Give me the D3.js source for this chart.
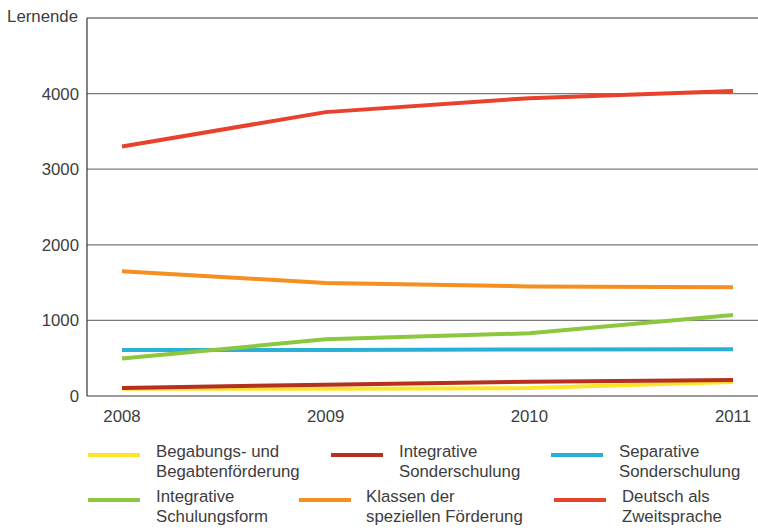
<!DOCTYPE html>
<html>
<head>
<meta charset="utf-8">
<script src="https://cdn.jsdelivr.net/npm/d3@7"></script>
<style>
  html, body { margin: 0; padding: 0; background: #fff; }
  svg { display: block; font-family: "Liberation Sans", Arial, sans-serif; }
</style>
</head>
<body>
<svg id="chart" width="758" height="532"></svg>
<script>
// Years on the x axis
const years = [2008, 2009, 2010, 2011];

// Number of learners per programme and year
const begabung      = [95, 95, 105, 185];
const intSonder     = [105, 150, 190, 212];
const sepSonder     = [610, 610, 615, 618];
const intSchulung   = [495, 750, 830, 1070];
const klassen       = [1650, 1495, 1450, 1440];
const daz           = [3300, 3755, 3940, 4035];

const seriesNames = [
  ["Begabungs- und", "Begabtenförderung"],
  ["Integrative", "Sonderschulung"],
  ["Separative", "Sonderschulung"],
  ["Integrative", "Schulungsform"],
  ["Klassen der", "speziellen Förderung"],
  ["Deutsch als", "Zweitsprache"]
];
const seriesColors = ["#ffe52a", "#b5301f", "#2ab0d6", "#8dc63f", "#f39020", "#e8412c"];
const seriesValues = [begabung, intSonder, sepSonder, intSchulung, klassen, daz];

const yTicks = [0, 1000, 2000, 3000, 4000];
const yTitle = "Lernende";

const svg = d3.select("#chart");
const plotLeft = 87, plotRight = 758, plotTop = 18, plotBottom = 396;
const fontSize = 16.8;

const x = d3.scalePoint().domain(years).range([122, 733]);
const y = d3.scaleLinear().domain([0, 5000]).range([plotBottom, plotTop]);

const textColor = "#3d3d3d";

// horizontal grid lines (including the top frame line)
svg.append("g")
  .selectAll("line")
  .data(yTicks.concat([5000]))
  .join("line")
  .attr("x1", plotLeft).attr("x2", plotRight)
  .attr("y1", d => y(d)).attr("y2", d => y(d))
  .attr("stroke", "#7a7a7a")
  .attr("stroke-width", 1.3);

// y axis line
svg.append("line")
  .attr("x1", plotLeft).attr("x2", plotLeft)
  .attr("y1", y(5000)).attr("y2", y(0))
  .attr("stroke", "#333")
  .attr("stroke-width", 1.2);

// y tick labels
svg.append("g")
  .selectAll("text")
  .data(yTicks)
  .join("text")
  .attr("x", 79)
  .attr("y", d => y(d))
  .attr("dy", "0.36em")
  .attr("text-anchor", "end")
  .attr("font-size", fontSize)
  .attr("fill", textColor)
  .text(d => d);

svg.append("text")
  .attr("x", 78).attr("y", 22)
  .attr("text-anchor", "end")
  .attr("font-size", fontSize)
  .attr("fill", textColor)
  .text(yTitle);

// x tick labels
svg.append("g")
  .selectAll("text")
  .data(years)
  .join("text")
  .attr("x", d => x(d))
  .attr("y", 422)
  .attr("text-anchor", "middle")
  .attr("font-size", fontSize)
  .attr("fill", textColor)
  .text(d => d);

// series lines
const line = d3.line().x((d, i) => x(years[i])).y(d => y(d));
svg.append("g")
  .selectAll("path")
  .data(seriesValues)
  .join("path")
  .attr("d", d => line(d))
  .attr("fill", "none")
  .attr("stroke", (d, i) => seriesColors[i])
  .attr("stroke-width", 4)
  .attr("stroke-linejoin", "round");

// legend
const legendPos = [
  { sx: 88, tx: 156, y: 455 },
  { sx: 331, tx: 399, y: 455 },
  { sx: 551, tx: 619, y: 455 },
  { sx: 88, tx: 156, y: 500 },
  { sx: 299, tx: 366, y: 500 },
  { sx: 554, tx: 622, y: 500 }
];
const legend = svg.append("g");
seriesNames.forEach((name, i) => {
  const p = legendPos[i];
  legend.append("line")
    .attr("x1", p.sx).attr("x2", p.sx + 52)
    .attr("y1", p.y).attr("y2", p.y)
    .attr("stroke", seriesColors[i])
    .attr("stroke-width", 4);
  const t = legend.append("text")
    .attr("x", p.tx).attr("y", p.y + 2)
    .attr("font-size", fontSize)
    .attr("fill", textColor);
  t.append("tspan").attr("x", p.tx).attr("dy", 0).text(name[0]);
  t.append("tspan").attr("x", p.tx).attr("dy", 20).text(name[1]);
});
</script>
</body>
</html>
